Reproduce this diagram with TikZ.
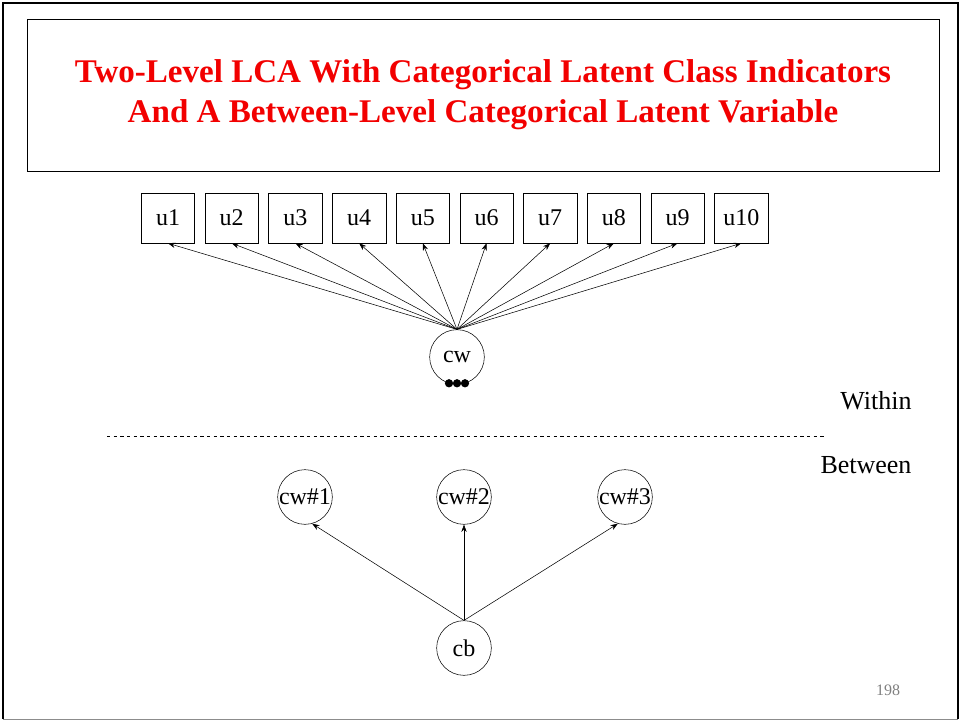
\documentclass[tikz,border=0pt]{standalone}
\usepackage{fontspec}
\setmainfont{Liberation Serif}
\usetikzlibrary{arrows.meta,positioning}
\colorlet{titlered}{red!95!black}
\colorlet{framegray}{black!45}

\tikzset{
  txt/.style={font=\fontsize{18}{21}\selectfont},
  lvltxt/.style={font=\fontsize{19.5}{23}\selectfont},
  ubox/.style={txt, draw, thin, minimum width=40pt, minimum height=37.5pt, inner sep=0pt},
  lat/.style={txt, draw, thin, circle, minimum size=41pt, inner sep=0pt},
  path/.style={thin, -{Stealth[length=5.5pt,width=4pt]}},
}

\begin{document}
\begin{tikzpicture}[x=0.75pt, y=-0.75pt]
  \useasboundingbox (0,0) rectangle (961,721);
  % slide frame
  \draw[framegray, thin] (3,719) -- (958,719);
  \draw[line width=1.6pt] (3,719) -- (3,3) -- (958,3) -- (958,719);
  % title
  \node[draw, thin, minimum width=684pt, minimum height=114pt, inner sep=0pt,
        align=center, text=titlered, font=\fontsize{24.8}{30}\selectfont\bfseries]
    (title) at (483,95) {Two-Level LCA With Categorical Latent Class Indicators\\
                         And A Between-Level Categorical Latent Variable};

  % within part
  \foreach \i in {1,...,10}
    \node[ubox] (u\i) at ({168+63.7*(\i-1)},218) {u\i};
  \node[lat] (cw) at (457,357) {cw};
  \foreach \i in {1,...,10}
    \draw[path] (cw.north) -- (u\i.south);
  \foreach \dx in {-6,0,6}
    \fill ([xshift=\dx pt, yshift=1pt]cw.south) circle (3.1pt);

  \node[lvltxt] (within) at (876,401) {Within};
  \coordinate (sepL) at (107,436);
  \coordinate (sepR) at (826,436);
  \draw[thin, dash pattern=on 2.5pt off 2.5pt] (sepL) -- (sepR);
  \node[lvltxt] (between) at (866,465) {Between};

  % between part
  \node[lat] (cw1) at (305,497) {cw\#1};
  \node[lat] (cw2) at (464,497) {cw\#2};
  \node[lat] (cw3) at (625,497) {cw\#3};
  \node[lat] (cb) at (464,648) {cb};
  \draw[path] (cb.north) -- (cw1.-75);
  \draw[path] (cb.north) -- (cw2.south);
  \draw[path] (cb.north) -- (cw3.-105);

  \node[text=black!50, font=\fontsize{12}{14}\selectfont] (page) at (888,690) {198};
\end{tikzpicture}
\end{document}
